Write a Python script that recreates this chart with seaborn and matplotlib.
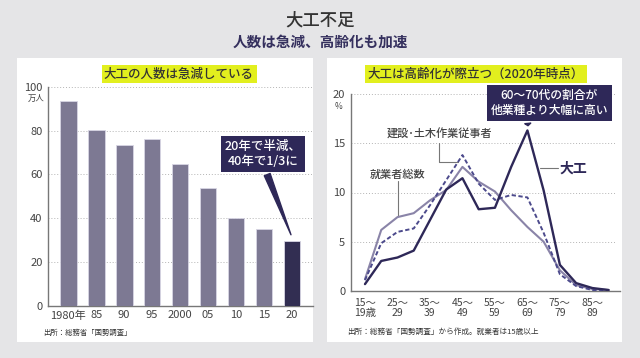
# plot.py - 大工不足 chart
import seaborn as sns
import matplotlib.pyplot as plt
import matplotlib.patches as mpatches
import pandas as pd
import numpy as np

# ---- data ----
year_labels = ["1980年", "85", "90", "95", "2000", "05", "10", "15", "20"]
carpenters = [93.5, 80.1, 73.2, 76.1, 64.7, 54.0, 40.0, 35.3, 29.7]

age_groups = ["15-19", "20-24", "25-29", "30-34", "35-39", "40-44", "45-49", "50-54",
              "55-59", "60-64", "65-69", "70-74", "75-79", "80-84", "85-89", "90+"]
age_tick_labels = ["15～\n19歳", "", "25～\n29", "", "35～\n39", "", "45～\n49", "",
                   "55～\n59", "", "65～\n69", "", "75～\n79", "", "85～\n89", ""]
daiku = [0.7, 3.05, 3.4, 4.1, 7.2, 10.3, 11.45, 8.3, 8.45, 12.6, 16.3, 10.2, 2.65, 0.8, 0.3, 0.1]
kensetsu = [1.1, 4.85, 6.0, 6.35, 8.7, 11.25, 13.8, 10.9, 9.25, 9.75, 9.5, 5.9, 1.7, 0.5, 0.1, 0.05]
total = [1.2, 6.2, 7.5, 7.9, 9.2, 10.25, 12.6, 11.1, 10.1, 8.2, 6.5, 5.0, 2.1, 0.6, 0.2, 0.1]

# ---- style ----
sns.set_theme(style="white")
plt.rcParams["font.family"] = ["Noto Sans CJK JP", "DejaVu Sans"]

NAVY = "#2e2858"
BAR = "#7a7498"
LIGHT = "#8a84a8"
DASH = "#4c4a8c"
BG = "#e5e5e7"
YELLOW = "#e2ef1e"
GRID = "#b4b4b4"
TXT = "#444444"

fig = plt.figure(figsize=(6.4, 3.58), dpi=100, facecolor=BG)

# white panels
for x0, x1 in [(17, 313), (327, 622)]:
    fig.add_artist(mpatches.Rectangle((x0 / 640, 1 - 342 / 358), (x1 - x0) / 640, (342 - 58) / 358,
                                      transform=fig.transFigure, facecolor="white",
                                      edgecolor="none", zorder=0))

# titles
fig.text(0.5, 1 - 20 / 358, "大工不足", ha="center", va="center", fontsize=12.5,
         fontweight="medium", color="#333333")
fig.text(0.5, 1 - 42 / 358, "人数は急減、高齢化も加速", ha="center", va="center",
         fontsize=10.5, fontweight="bold", color="#35305e")
fig.text(179 / 640, 1 - 74 / 358, "大工の人数は急減している", ha="center", va="center",
         fontsize=9, fontweight="medium", color="#333333",
         bbox=dict(boxstyle="square,pad=0.2", fc=YELLOW, ec="none"))
fig.text(476 / 640, 1 - 74 / 358, "大工は高齢化が際立つ（2020年時点）", ha="center", va="center",
         fontsize=9, fontweight="medium", color="#333333",
         bbox=dict(boxstyle="square,pad=0.2", fc=YELLOW, ec="none"))


def style_axes(ax):
    ax.set_facecolor("white")
    for s in ["top", "right"]:
        ax.spines[s].set_visible(False)
    for s in ["left", "bottom"]:
        ax.spines[s].set_color("#777777")
        ax.spines[s].set_linewidth(1.0)
    ax.set_xlabel("")
    ax.set_ylabel("")


# ---- left: bar chart ----
ax1 = fig.add_axes([48 / 640, 1 - 306 / 358, (313 - 48) / 640, (306 - 86.7) / 358])
df_bar = pd.DataFrame({"year": year_labels, "count": carpenters})
colors = [BAR] * (len(year_labels) - 1) + [NAVY]
sns.barplot(data=df_bar, x="year", y="count", hue="year", palette=colors, legend=False,
            width=0.6, edgecolor="#d8d6e4", linewidth=0.6, ax=ax1, zorder=3)
style_axes(ax1)
ax1.set_xlim(-0.72, 8.75)
ax1.set_ylim(0, 100)
ax1.set_yticks([0, 20, 40, 60, 80, 100])
for v in [20, 40, 60, 80, 100]:
    ax1.axhline(v, color=GRID, lw=0.7, ls=(0, (1, 2)), zorder=1)
ax1.tick_params(axis="both", length=0, labelsize=8, labelcolor=TXT, pad=4)
ax1.tick_params(axis="x", pad=3)
ax1.text(-0.045, 0.948, "万人", transform=ax1.transAxes, ha="center", va="center",
         fontsize=6, color=TXT)
ax1.annotate("20年で半減、\n40年で1/3に", xy=(8, 31.3), xytext=(6.96, 69.3),
             textcoords="data", ha="center", va="center", fontsize=9, color="white",
             fontweight="medium", linespacing=1.25,
             bbox=dict(boxstyle="square,pad=0.3", fc=NAVY, ec="none"),
             arrowprops=dict(arrowstyle="wedge,tail_width=0.5,shrink_factor=0.5",
                             fc=NAVY, ec=NAVY, relpos=(0.45, 0.5)),
             zorder=5)
fig.text(43 / 640, 1 - 333 / 358, "出所：総務省「国勢調査」", ha="left", va="center",
         fontsize=5.3, color="#333333")

# ---- right: line chart ----
ax2 = fig.add_axes([350.7 / 640, 1 - 291 / 358, (620 - 350.7) / 640, (291 - 94) / 358])
idx = np.arange(len(age_groups))
df_line = pd.DataFrame({"idx": idx, "daiku": daiku, "kensetsu": kensetsu, "total": total})
sns.lineplot(data=df_line, x="idx", y="total", color=LIGHT, lw=1.5, ax=ax2, zorder=3)
sns.lineplot(data=df_line, x="idx", y="kensetsu", color=DASH, lw=1.4, ax=ax2, zorder=4,
             linestyle=(0, (2.2, 1.3)))
sns.lineplot(data=df_line, x="idx", y="daiku", color=NAVY, lw=1.7, ax=ax2, zorder=5)
style_axes(ax2)
ax2.set_xlim(-0.88, 15.7)
ax2.set_ylim(0, 20)
ax2.set_yticks([0, 5, 10, 15, 20])
for v in [5, 10, 15, 20]:
    ax2.axhline(v, xmax=0.98, color=GRID, lw=0.7, ls=(0, (1, 2)), zorder=1)
ax2.set_xticks(idx)
ax2.set_xticklabels(age_tick_labels, linespacing=1.0)
ax2.tick_params(axis="y", length=0, labelsize=8, labelcolor=TXT, pad=4)
ax2.tick_params(axis="x", direction="in", length=3, width=0.8, color="#777777",
                labelsize=7.5, labelcolor=TXT, pad=5)
ax2.text(-0.045, 0.935, "%", transform=ax2.transAxes, ha="center", va="center",
         fontsize=6, color=TXT)

# callouts
ax2.annotate("60～70代の割合が\n他業種より大幅に高い", xy=(10.05, 16.5), xytext=(11.35, 19.1),
             textcoords="data", ha="center", va="center", fontsize=8.5, color="white",
             fontweight="medium", linespacing=1.25, annotation_clip=False,
             bbox=dict(boxstyle="square,pad=0.3", fc=NAVY, ec="none"),
             arrowprops=dict(arrowstyle="wedge,tail_width=0.5,shrink_factor=0.5",
                             fc=NAVY, ec=NAVY, relpos=(0.3, 0.5)),
             zorder=6)
lead = dict(color="#777777", lw=0.8, clip_on=False, zorder=2)
ax2.text(4.6, 15.9, "建設･土木作業従事者", ha="center", va="center", fontsize=8,
         fontweight="medium", color="#444444")
ax2.plot([4.55, 4.55, 5.72], [15.0, 13.05, 13.05], **lead)
ax2.text(2.03, 11.8, "就業者総数", ha="center", va="center", fontsize=8,
         fontweight="medium", color="#444444")
ax2.plot([2.03, 2.03], [11.2, 7.6], **lead)
ax2.text(12.0, 12.45, "大工", ha="left", va="center", fontsize=10, fontweight="bold", color=NAVY)
ax2.plot([10.8, 11.9], [12.45, 12.45], **lead)
fig.text(347 / 640, 1 - 332 / 358, "出所：総務省「国勢調査」から作成。就業者は15歳以上",
         ha="left", va="center", fontsize=5.5, color="#333333")

plt.savefig("out.png", dpi=100, facecolor=BG)
